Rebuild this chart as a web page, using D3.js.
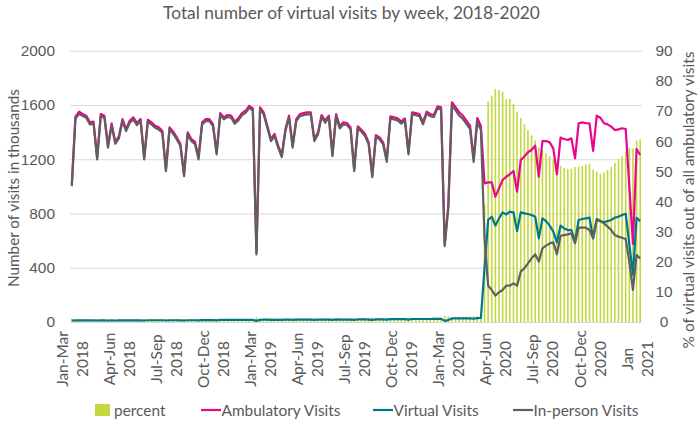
<!DOCTYPE html>
<html><head><meta charset="utf-8">
<script src="https://cdn.jsdelivr.net/npm/d3@7"></script>
<style>body{margin:0;background:#fff;} svg{display:block;font-family:Lato,"Open Sans",sans-serif;}</style>
</head><body><svg id="c" width="700" height="430"></svg>
<script>
// ---- DATA (weekly, first week = 2018-01-01) ----
const percent = [
1.1,0.8,0.8,0.8,0.8,0.8,0.8,0.9,0.8,0.8,
0.9,0.8,0.8,0.9,0.8,0.8,0.8,0.9,0.8,0.9,
0.9,0.9,0.9,0.9,0.9,0.9,1.0,0.9,0.9,1.0,
0.9,1.0,0.9,1.0,1.0,1.0,1.0,0.9,0.9,1.0,
1.0,1.0,1.0,1.0,1.0,1.0,1.0,1.0,1.0,1.0,
1.0,1.6,
1.0,1.1,1.2,1.2,1.2,1.2,1.2,1.2,1.1,1.2,
1.1,1.2,1.2,1.2,1.2,1.2,1.2,1.2,1.2,1.2,
1.2,1.2,1.3,1.2,1.2,1.3,1.3,1.3,1.3,1.4,
1.4,1.5,1.4,1.4,1.4,1.4,1.4,1.4,1.4,1.4,
1.4,1.4,1.4,1.4,1.4,1.4,1.4,1.4,1.5,1.5,
1.5,2.0,
2.0,1.6,1.7,1.7,1.8,1.8,1.9,2.0,1.9,2.1,39,
73.2,75.1,77.3,77.0,76.4,73.8,74.0,72.4,69.8,67.7,
65.6,63.7,61.9,60.2,57.9,56.9,56.0,55.0,53.9,52.9,
51.8,51.1,50.7,50.8,51.4,51.6,51.8,52.2,52.5,50.6,
49.9,49.2,49.6,50.4,51.4,52.8,54.0,55.0,56.5,57.8,
57.6,60.2,60.6];

const ambulatory = [
1017,1512,1550,1533,1521,1472,1477,1214,1533,1521,
1300,1464,1329,1368,1496,1422,1484,1509,1467,1496,
1214,1491,1472,1447,1435,1410,1127,1435,1403,1361,
1312,1091,1398,1349,1329,1214,1472,1496,1496,1459,
1250,1540,1509,1526,1521,1477,1501,1540,1557,1594,
1575,513,
1582,1545,1447,1349,1386,1300,1231,1422,1521,1300,
1496,1533,1540,1545,1545,1349,1398,1526,1484,1521,
1238,1533,1442,1472,1467,1435,1127,1442,1417,1386,
1324,1083,1378,1361,1324,1196,1516,1509,1501,1477,
1501,1250,1545,1540,1533,1472,1550,1533,1526,1590,
1582,575,
860,1620,1583,1546,1522,1485,1448,1202,1504,1445,1022,
1029,1029,924,985,1047,1071,1089,1113,961,1194,
1219,1251,1268,1300,1071,1334,1334,1324,1280,1089,
1359,1349,1342,1354,1207,1465,1472,1465,1465,1261,
1521,1506,1465,1457,1440,1415,1420,1428,1423,1000,
575,1275,1231];

const virtual = [
11,12,12,12,12,12,12,11,12,12,
11,12,11,12,12,12,12,13,12,13,
11,13,13,13,13,13,11,13,13,13,
12,11,13,13,13,12,14,14,14,14,
12,15,15,15,15,15,15,15,15,16,
16,8,
16,17,17,16,16,16,15,17,17,15,
17,18,18,18,18,16,17,18,18,18,
15,19,18,18,18,18,15,19,19,19,
18,16,19,19,19,17,21,21,21,21,
21,18,22,22,22,22,22,22,23,23,
23,8,
14,26,26,26,27,27,27,24,28,30,400,
752,776,710,764,808,793,813,808,670,808,
801,796,789,776,617,764,744,710,666,587,
710,690,678,678,592,752,759,764,769,617,
759,744,735,744,752,769,776,789,798,575,
350,769,744];

const inPerson = [
1002,1497,1535,1518,1506,1457,1462,1199,1518,1506,
1285,1449,1314,1353,1481,1407,1469,1494,1452,1481,
1199,1476,1457,1432,1420,1395,1112,1420,1388,1346,
1297,1076,1383,1334,1314,1199,1457,1481,1481,1444,
1235,1525,1494,1511,1506,1462,1486,1525,1542,1579,
1560,498,
1567,1530,1432,1334,1371,1285,1216,1407,1506,1285,
1481,1518,1525,1530,1530,1334,1383,1511,1469,1506,
1223,1518,1427,1457,1452,1420,1112,1427,1402,1371,
1309,1068,1363,1346,1309,1181,1501,1494,1486,1462,
1486,1235,1530,1525,1518,1457,1535,1518,1511,1575,
1567,560,
840,1598,1560,1522,1498,1460,1423,1180,1478,1415,620,
268,236,194,219,236,268,268,285,268,371,
396,432,469,499,445,543,563,580,587,499,
636,641,646,653,580,695,695,695,678,617,
752,744,727,703,678,641,629,621,612,445,
236,494,469];

const quarterLabels = [
["Jan-Mar","2018"],["Apr-Jun","2018"],["Jul-Sep","2018"],["Oct-Dec","2018"],
["Jan-Mar","2019"],["Apr-Jun","2019"],["Jul-Sep","2019"],["Oct-Dec","2019"],
["Jan-Mar","2020"],["Apr-Jun","2020"],["Jul-Sep","2020"],["Oct-Dec","2020"],
["Jan","2021"]];
const weeksPerLabel = 13;
const leftTicks = [0,400,800,1200,1600,2000];
const rightTicks = [0,10,20,30,40,50,60,70,80,90];
const seriesNames = ["percent","Ambulatory Visits","Virtual Visits","In-person Visits"];

// ---- CHART ----
const colors = {bar:"#c3d83f", amb:"#e8068a", virt:"#00788a", inp:"#5f5f5f", text:"#595959", grid:"#d9d9d9"};
const svg = d3.select("#c");
const P = {left:70, right:642, top:50.7, bottom:322};
const n = ambulatory.length;
const weeks = d3.range(n);
const x = d3.scaleBand().domain(weeks).range([P.left, P.right]).paddingInner(0.56).paddingOuter(0.28);
const cx = i => x(i) + x.bandwidth()/2;
const yL = d3.scaleLinear().domain([0,2000]).range([P.bottom, P.top]);
const yR = d3.scaleLinear().domain([0,90]).range([P.bottom, P.top]);

function fit(sel, target){
  const w = sel.node().getComputedTextLength();
  const fs = parseFloat(sel.attr("font-size"));
  sel.attr("font-size", fs*target/w);
  return fs*target/w;
}
const probe = svg.append("text").attr("font-size",14.7).text("Ambulatory Visits");
const baseFS = fit(probe, 119);
probe.remove();

// grid
svg.append("g").attr("transform",`translate(${P.left},0)`)
  .call(d3.axisLeft(yL).tickValues(leftTicks).tickSize(-(P.right-P.left)).tickFormat(""))
  .call(g=>g.select(".domain").remove())
  .call(g=>g.selectAll("line").attr("stroke",colors.grid).attr("stroke-width",1));

// left axis labels
svg.append("g").attr("transform",`translate(${P.left},0)`)
  .call(d3.axisLeft(yL).tickValues(leftTicks).tickSize(0).tickPadding(15).tickFormat(d3.format("d")))
  .call(g=>g.select(".domain").remove())
  .call(g=>g.selectAll("text").attr("fill",colors.text).attr("font-size",baseFS).attr("font-family",null));

// right axis labels
svg.append("g").attr("transform",`translate(${P.right},0)`)
  .call(d3.axisRight(yR).tickValues(rightTicks).tickSize(0).tickPadding(22).tickFormat(d3.format("d")))
  .call(g=>g.select(".domain").remove())
  .call(g=>g.selectAll("text").attr("fill",colors.text).attr("font-size",baseFS).attr("font-family",null).attr("text-anchor","middle"));

// bars
svg.append("g").selectAll("rect").data(percent).join("rect")
  .attr("x",(d,i)=>x(i)).attr("width",x.bandwidth())
  .attr("y",d=>yR(d)).attr("height",d=>yR(0)-yR(d))
  .attr("fill",colors.bar);

// lines
const mk = arr => d3.line().x((d,i)=>cx(i)).y(d=>yL(d))(arr);
[[ambulatory,colors.amb],[virtual,colors.virt],[inPerson,colors.inp]].forEach(([arr,c])=>{
  svg.append("path").attr("d",mk(arr)).attr("fill","none").attr("stroke",c)
    .attr("stroke-width",2.2).attr("stroke-linejoin","round");
});

// x labels
const xl = svg.append("g");
quarterLabels.forEach((lab,k)=>{
  const c = cx(k*weeksPerLabel);
  lab.forEach((t,j)=>{
    xl.append("text").attr("transform",`translate(${c + (j===0?-10:10)},359) rotate(-90)`)
      .attr("text-anchor","middle").attr("dominant-baseline","central")
      .attr("font-size",baseFS).attr("fill",colors.text).text(t);
  });
});

// title
const title = svg.append("text").attr("x",351.5).attr("y",12).attr("text-anchor","middle")
  .attr("dominant-baseline","central").attr("font-size",17).attr("fill",colors.text)
  .text("Total number of virtual visits by week, 2018-2020");
fit(title,377);

// axis titles
const lt = svg.append("text").attr("transform","translate(13,188) rotate(-90)")
  .attr("text-anchor","middle").attr("dominant-baseline","central").attr("font-size",15)
  .attr("fill",colors.text).text("Number of visits in thousands");
fit(lt,198);
const rt = svg.append("text").attr("transform","translate(688,200) rotate(-90)")
  .attr("text-anchor","middle").attr("dominant-baseline","central").attr("font-size",15)
  .attr("fill",colors.text).text("% of virtual visits out of all ambulatory visits");
fit(rt,297);

// legend
const ly = 410;
const leg = svg.append("g");
const legendItems = [
  {name:seriesNames[0], type:"rect", color:colors.bar, x0:95},
  {name:seriesNames[1], type:"line", color:colors.amb, x0:201},
  {name:seriesNames[2], type:"line", color:colors.virt, x0:373},
  {name:seriesNames[3], type:"line", color:colors.inp, x0:513}
];
legendItems.forEach(it=>{
  if(it.type==="rect"){
    leg.append("rect").attr("x",it.x0).attr("y",ly-6).attr("width",15).attr("height",12).attr("fill",it.color);
    leg.append("text").attr("x",it.x0+19).attr("y",ly).attr("dominant-baseline","central")
      .attr("font-size",baseFS).attr("fill",colors.text).text(it.name);
  } else {
    leg.append("line").attr("x1",it.x0).attr("x2",it.x0+20).attr("y1",ly).attr("y2",ly)
      .attr("stroke",it.color).attr("stroke-width",2.2);
    leg.append("text").attr("x",it.x0+20.5).attr("y",ly).attr("dominant-baseline","central")
      .attr("font-size",baseFS).attr("fill",colors.text).text(it.name);
  }
});
</script></body></html>
